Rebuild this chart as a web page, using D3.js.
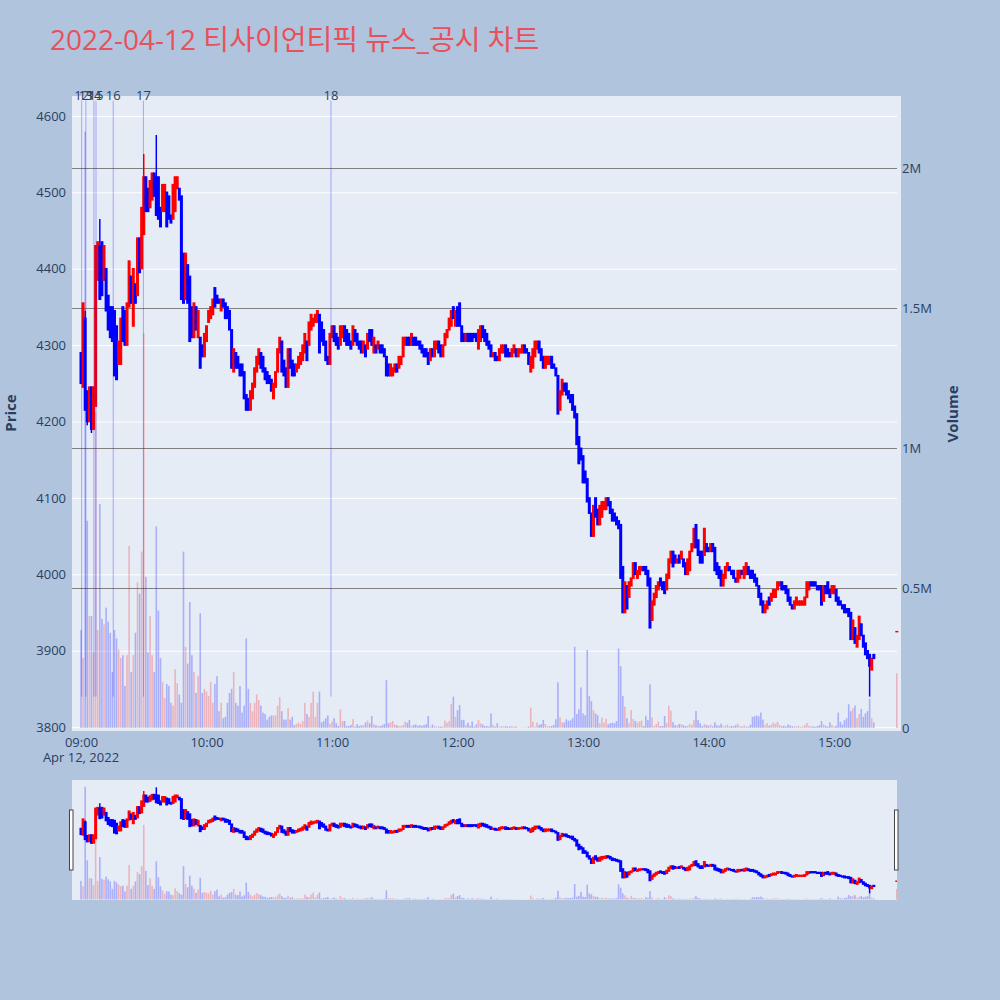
<!DOCTYPE html>
<html><head><meta charset="utf-8">
<script src="https://cdn.jsdelivr.net/npm/d3@7/dist/d3.min.js"></script>
<style>
body{margin:0;background:#b0c4de;}
svg{display:block;font-family:"Open Sans","Noto Sans CJK KR",sans-serif;}
</style>
</head><body>
<svg id="c" width="1000" height="1000"></svg>
<script>
// ---------------- DATA ----------------
const titleText = "2022-04-12 티사이언티픽 뉴스_공시 차트";
const tradeDay = "2022-04-12";
const sessionStart = "09:00";
const auctionTime = "15:30";

// 1-minute candles 09:00..15:19, then the 15:30 closing auction
const opens = [
4290,4245,4335,4240,4200,4245,4190,4220,4385,4430,
4435,4385,4400,4365,4350,4350,4345,4325,4275,4275,
4350,4345,4300,4350,4390,4325,4380,4365,4440,4400,
4445,4520,4505,4480,4490,4525,4520,4520,4480,4475,
4475,4500,4495,4470,4465,4475,4505,4505,4495,4420,
4360,4405,4390,4350,4310,4350,4310,4310,4300,4285,
4305,4330,4335,4340,4375,4365,4360,4345,4360,4355,
4350,4345,4320,4265,4290,4285,4275,4275,4265,4235,
4230,4215,4230,4245,4265,4275,4290,4285,4270,4265,
4260,4255,4230,4245,4265,4290,4305,4280,4270,4245,
4295,4280,4275,4265,4270,4275,4280,4290,4305,4300,
4320,4325,4330,4330,4340,4330,4320,4305,4285,4275,
4310,4325,4315,4310,4300,4310,4325,4320,4315,4305,
4300,4320,4315,4305,4305,4290,4300,4295,4320,4320,
4290,4300,4295,4300,4300,4295,4285,4275,4260,4260,4265,4275,
4270,4275,4285,4300,4310,4310,4300,4310,4310,4305,
4305,4300,4295,4295,4290,4280,4295,4285,4295,4305,
4300,4285,4300,4310,4320,4325,4350,4325,4350,4355,
4325,4315,4305,4315,4315,4315,4315,4315,4295,4305,
4325,4320,4315,4305,4300,4285,4290,4285,4280,4290,
4290,4300,4295,4290,4285,4290,4295,4285,4290,4290,
4300,4295,4290,4265,4270,4285,4295,4305,
4295,4285,4270,4275,4275,4285,4275,4270,4260,4215,
4235,4250,4250,4240,4235,4235,4220,4210,4180,4165,
4155,4135,4125,4100,4080,4050,4100,4085,4065,4075,
4085,4085,4100,4095,4085,4080,4075,4070,4065,4010,
3950,3985,3970,3985,3995,4015,3995,4000,4005,4010,
4010,4005,3995,3940,3960,3970,3980,3995,3990,3990,
3980,3995,4015,4030,4025,4015,4025,4020,4020,4015,4000,
4005,4030,4035,4065,4045,4030,4030,4025,4040,4035,
4030,4040,4035,4015,4010,4005,3985,3995,4005,4010,
4005,4005,3995,3990,3995,4005,3995,4000,4010,4005,
4005,4000,3995,3985,3975,3965,3950,3955,3970,3965,
3970,3970,3980,3985,3990,3985,3985,3980,3970,3960,
3955,3960,3960,3960,3960,3960,3970,3980,3990,3990,
3990,3985,3985,3985,3965,3985,3990,3980,3975,3975,
3980,3970,3965,3960,3960,3955,3955,3950,3915,3930,
3905,3915,3935,3920,3910,3900,3895,3875,3895,
3925
];
const closes = [
4250,4355,4215,4200,4245,4190,4245,4430,4435,4360,
4365,4430,4345,4320,4310,4305,4260,4255,4305,4335,
4305,4300,4355,4410,4355,4400,4355,4440,4395,4480,
4520,4475,4475,4515,4525,4495,4470,4465,4455,4510,
4510,4455,4465,4460,4510,4520,4520,4490,4360,4355,
4420,4355,4305,4310,4355,4320,4345,4270,4285,4315,
4325,4345,4350,4360,4350,4355,4355,4360,4350,4335,
4335,4320,4270,4295,4270,4270,4260,4260,4230,4215,
4215,4240,4250,4270,4285,4295,4270,4265,4255,4250,
4250,4240,4250,4265,4295,4310,4265,4260,4245,4295,
4270,4260,4260,4275,4285,4290,4300,4315,4280,4330,
4340,4335,4340,4345,4290,4305,4300,4280,4275,4315,
4325,4305,4300,4295,4325,4325,4305,4300,4300,4295,
4325,4305,4300,4295,4290,4305,4285,4315,4305,4300,
4310,4290,4305,4290,4290,4285,4260,4260,4275,4270,4275,4265,
4285,4285,4310,4310,4300,4300,4315,4300,4300,4300,
4295,4290,4285,4285,4275,4295,4285,4305,4305,4290,
4285,4300,4315,4320,4335,4345,4335,4345,4325,4325,
4305,4305,4315,4305,4305,4305,4310,4305,4320,4325,
4310,4305,4300,4295,4285,4290,4280,4280,4295,4300,
4300,4285,4285,4285,4295,4300,4285,4295,4295,4300,
4290,4290,4275,4285,4295,4305,4305,4290,
4280,4270,4285,4285,4285,4270,4270,4260,4210,4240,
4255,4240,4235,4230,4225,4215,4205,4170,4145,4150,
4120,4120,4095,4080,4050,4090,4075,4065,4090,4095,
4095,4100,4090,4080,4070,4070,4065,4060,3995,3950,
3990,3955,3990,3995,4015,4000,4005,4010,4010,4005,
4000,3985,3930,3965,3975,3985,3990,3985,3980,3975,
4000,4020,4030,4010,4015,4020,4015,4030,4010,4000,4020,
4030,4040,4060,4035,4025,4015,4015,4060,4030,4030,
4040,4030,4005,4000,3995,3985,4000,4010,4015,4005,
4000,3995,3990,4005,4005,4000,4010,4015,4000,3995,
3995,3990,3985,3970,3960,3950,3960,3965,3960,3975,
3980,3980,3990,3990,3980,3980,3975,3965,3960,3955,
3965,3970,3965,3965,3965,3970,3990,3990,3985,3985,
3985,3980,3980,3960,3985,3975,3975,3970,3985,3985,
3965,3960,3960,3955,3950,3950,3945,3915,3940,3910,
3920,3945,3920,3905,3895,3890,3880,3890,3890,
3925
];
// extra wick extremes [candle index, price]
const wickHighs = [[2,4345],[9,4465],[30,4550],[36,4575]];
const wickLows = [[3,4195],[5,4185],[377,3840]];

// volume in thousands of shares, one per candle
const volumesK = [
350,250,2130,740,400,400,270,1130,350,800,
390,370,430,380,340,200,350,320,280,250,
260,150,260,650,200,260,340,520,480,630,
1410,540,270,400,260,200,720,420,250,165,
107,157,150,90,80,210,160,120,90,630,
290,230,450,260,200,125,186,410,125,140,
130,115,165,90,157,185,60,90,35,40,
90,125,140,200,90,80,150,55,80,320,
140,90,60,90,120,100,80,55,50,30,
40,45,45,45,80,110,60,30,30,70,
30,40,10,15,20,15,25,90,50,40,
90,130,40,90,130,20,25,35,45,15,
23,35,17,8,67,25,25,7,7,11,
32,5,14,7,10,10,20,26,17,43,
13,10,8,7,10,14,171,17,20,25,
13,10,7,7,11,23,19,29,7,11,
13,8,10,8,11,13,43,5,13,7,
5,5,5,5,26,19,25,86,112,40,
64,82,29,29,11,19,7,23,5,13,
29,17,13,7,7,5,52,11,5,17,
5,7,5,7,5,5,7,5,5,2,
2,2,2,2,5,73,23,5,20,11,
14,29,14,7,7,7,11,31,163,38,
20,20,31,26,27,35,290,50,67,145,
52,46,279,114,96,64,52,46,17,37,
19,33,13,17,19,17,25,284,221,114,
76,35,17,64,32,25,19,24,26,7,
44,29,156,38,7,14,23,7,7,43,
17,80,62,21,10,10,14,14,10,7,
8,14,11,29,61,29,17,7,14,11,
8,12,6,20,10,8,15,6,9,12,
5,8,6,10,15,7,5,9,6,4,
12,40,42,45,42,55,30,10,18,8,
12,20,15,22,10,6,8,5,12,9,
6,7,5,8,4,6,10,18,8,5,
6,4,7,10,25,12,8,5,20,10,
5,8,55,22,12,28,35,85,60,70,
80,35,50,68,40,52,60,105,35,20,
196
];

const newsTimes = ["09:00:20","09:02:20","09:06:10","09:07:10","09:15:25","09:29:50","10:59:30"];
const newsLabels = ["12","13","14","15","16","17","18"];

const priceTicks = [3800,3900,4000,4100,4200,4300,4400,4500,4600];
const volumeTicks = [0,500000,1000000,1500000,2000000];
const volumeTickLabels = ["0","0.5M","1M","1.5M","2M"];
const timeTicks = ["09:00","10:00","11:00","12:00","13:00","14:00","15:00"];
const dateLabel = "Apr 12, 2022";

// ---------------- BUILD ----------------
const parseT = d3.timeParse("%Y-%m-%d %H:%M:%S");
const t0 = parseT(tradeDay + " " + sessionStart + ":00");
const candles = opens.map((o, i) => {
  const t = i < opens.length - 1 ? d3.timeMinute.offset(t0, i)
                                 : parseT(tradeDay + " " + auctionTime + ":00");
  return {t, o, c: closes[i], h: Math.max(o, closes[i]), l: Math.min(o, closes[i]), v: volumesK[i] * 1000};
});
wickHighs.forEach(([i, p]) => candles[i].h = Math.max(candles[i].h, p));
wickLows.forEach(([i, p]) => candles[i].l = Math.min(candles[i].l, p));

const UP = "#ff0000", DOWN = "#0000ff";
const col = d => d.c >= d.o ? UP : DOWN;
const volCol = d => d.c >= d.o ? "rgba(255,0,0,0.24)" : "rgba(0,0,255,0.26)";

const svg = d3.select("#c");
const font = "#2a3f5f";

// plot area
const L = 72, R = 897, Rbg = 901, T = 96, B = 731;
const x = d3.scaleTime()
  .domain([parseT(tradeDay + " 08:55:42"), parseT(tradeDay + " 15:32:00")])
  .range([L, Rbg]);
const yP = d3.scaleLinear().domain([3795, 4626]).range([B, T]);
const yV = d3.scaleLinear().domain([0, 2000000]).range([728, 168]);

svg.append("rect").attr("x", 0).attr("y", 0).attr("width", 1000).attr("height", 1000).attr("fill", "#b0c4de");
svg.append("rect").attr("x", L).attr("y", T).attr("width", Rbg - L).attr("height", B - T).attr("fill", "#e5ecf6");

// title
svg.append("text").attr("x", 50).attr("y", 50).attr("font-size", 28).attr("fill", "#e8505b").text(titleText);

// price gridlines (white)
const gP = svg.append("g").attr("transform", `translate(${L},0)`)
  .call(d3.axisLeft(yP).tickValues(priceTicks).tickSize(-(R - L)).tickFormat(""));
gP.select(".domain").remove();
gP.selectAll("line").attr("stroke", "#ffffff").attr("stroke-width", 1);

// volume gridlines (gray)
const gVg = svg.append("g").attr("transform", `translate(${L},0)`)
  .call(d3.axisRight(yV).tickValues(volumeTicks.slice(1)).tickSize(R - L).tickFormat(""));
gVg.select(".domain").remove();
gVg.selectAll("line").attr("stroke", "#808080").attr("stroke-width", 1.2);

// price axis labels
const aP = svg.append("g").attr("transform", `translate(${L},0)`)
  .call(d3.axisLeft(yP).tickValues(priceTicks).tickSize(0).tickPadding(6).tickFormat(d3.format("d")));
aP.select(".domain").remove();
aP.selectAll("text").attr("font-size", 13).attr("fill", font).attr("font-family", "Open Sans");

// volume axis labels
const aV = svg.append("g").attr("transform", `translate(${R},0)`)
  .call(d3.axisRight(yV).tickValues(volumeTicks).tickSize(0).tickPadding(5)
    .tickFormat((d, i) => volumeTickLabels[i]));
aV.select(".domain").remove();
aV.selectAll("text").attr("font-size", 13).attr("fill", font).attr("font-family", "Open Sans");

// time axis
const timeDates = timeTicks.map(s => parseT(tradeDay + " " + s + ":00"));
const aX = svg.append("g").attr("transform", `translate(0,${B})`)
  .call(d3.axisBottom(x).tickValues(timeDates).tickSize(0).tickPadding(7).tickFormat(d3.timeFormat("%H:%M")));
aX.select(".domain").remove();
aX.selectAll("text").attr("font-size", 13).attr("fill", font).attr("font-family", "Open Sans");
svg.append("text").attr("x", x(timeDates[0])).attr("y", 761.5).attr("text-anchor", "middle")
  .attr("font-size", 13).attr("fill", font).text(dateLabel);

// axis titles
svg.append("text").attr("transform", "translate(10,413) rotate(-90)").attr("text-anchor", "middle")
  .attr("dominant-baseline", "central").attr("font-size", 15).attr("font-weight", "bold").attr("fill", font).text("Price");
svg.append("text").attr("transform", "translate(952,414) rotate(-90)").attr("text-anchor", "middle")
  .attr("dominant-baseline", "central").attr("font-size", 15).attr("font-weight", "bold").attr("fill", font).text("Volume");

// clips
svg.append("clipPath").attr("id", "clipMain").append("rect").attr("x", L).attr("y", T).attr("width", Rbg - L).attr("height", B - T);
svg.append("clipPath").attr("id", "clipSlider").append("rect").attr("x", L).attr("y", 780).attr("width", R - L).attr("height", 120);

function drawVolume(g, xs, ys, w) {
  g.selectAll("rect.v").data(candles).join("rect").attr("class", "v")
    .attr("x", d => xs(d.t) - w / 2).attr("width", w)
    .attr("y", d => ys(d.v)).attr("height", d => Math.max(0, ys(0) - ys(d.v)))
    .attr("fill", volCol);
}
function drawCandles(g, xs, ys, bw, ww) {
  g.selectAll("line.w").data(candles).join("line").attr("class", "w")
    .attr("x1", d => xs(d.t)).attr("x2", d => xs(d.t))
    .attr("y1", d => ys(d.h)).attr("y2", d => ys(d.l))
    .attr("stroke", col).attr("stroke-width", ww);
  g.selectAll("rect.b").data(candles).join("rect").attr("class", "b")
    .attr("x", d => xs(d.t) - bw / 2).attr("width", bw)
    .attr("y", d => ys(Math.max(d.o, d.c)) - 0.75)
    .attr("height", d => Math.max(1.5, ys(Math.min(d.o, d.c)) - ys(Math.max(d.o, d.c)) + 1.5))
    .attr("fill", col);
}

const main = svg.append("g").attr("clip-path", "url(#clipMain)");
drawVolume(main.append("g"), x, yV, 1.6);
drawCandles(main.append("g"), x, yP, 3.0, 1.5);

// news markers
const newsDates = newsTimes.map(s => parseT(tradeDay + " " + s));
const gN = svg.append("g");
gN.selectAll("line").data(newsDates).join("line")
  .attr("x1", d => x(d)).attr("x2", d => x(d))
  .attr("y1", yP(4620)).attr("y2", yP(3840))
  .attr("stroke", "rgba(0,0,255,0.3)").attr("stroke-width", 1);
gN.selectAll("text").data(newsDates).join("text")
  .attr("x", d => x(d)).attr("y", yP(4620) - 0.5).attr("text-anchor", "middle")
  .attr("font-size", 13).attr("fill", font).text((d, i) => newsLabels[i]);

// range slider
svg.append("rect").attr("x", L).attr("y", 780).attr("width", R - L).attr("height", 120).attr("fill", "#e5ecf6");
const ysP = d3.scaleLinear().domain([3795, 4626]).range([900, 780]);
const ysV = d3.scaleLinear().domain([-10700, 2257000]).range([900, 780]);
const sl = svg.append("g").attr("clip-path", "url(#clipSlider)");
drawVolume(sl.append("g"), x, ysV, 1.6);
drawCandles(sl.append("g"), x, ysP, 3.0, 1.5);
[69.5, 894.5].forEach(hx => {
  svg.append("rect").attr("x", hx).attr("y", 810).attr("width", 3.5).attr("height", 60)
    .attr("fill", "#ffffff").attr("stroke", "#444").attr("stroke-width", 1);
});
</script>
</body></html>
